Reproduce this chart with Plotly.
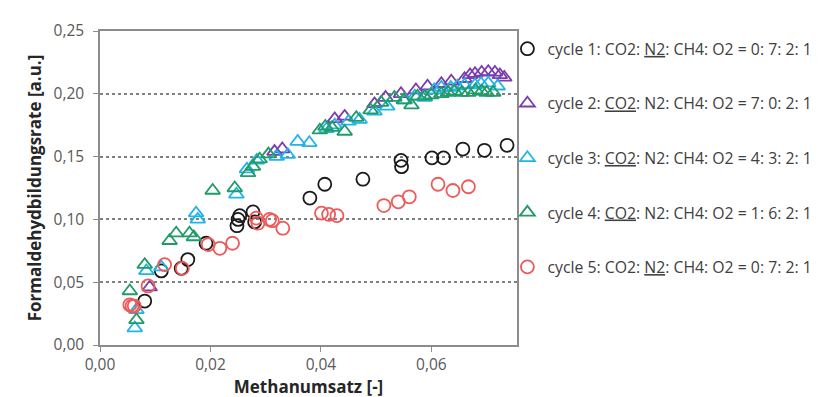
import plotly.graph_objects as go

# ---- data ----
c1_x = [0.0081,0.0111,0.0147,0.0159,0.0192,0.0248,0.0250,0.0253,0.0277,0.0280,0.0380,0.0407,0.0476,0.0545,0.0546,0.0601,0.0622,0.0657,0.0696,0.0737]
c1_y = [0.035,0.059,0.061,0.068,0.081,0.095,0.100,0.103,0.106,0.098,0.117,0.128,0.132,0.147,0.142,0.149,0.149,0.156,0.155,0.159]

c2_x = [0.0090,0.0316,0.0330,0.0425,0.0443,0.0497,0.0517,0.0545,0.0572,0.0593,0.0618,0.0636,0.0660,0.0670,0.0679,0.0691,0.0703,0.0715,0.0724,0.0732]
c2_y = [0.046,0.154,0.156,0.180,0.182,0.192,0.197,0.200,0.203,0.206,0.208,0.210,0.212,0.215,0.216,0.217,0.2175,0.217,0.215,0.213]

c3_x = [0.0063,0.0066,0.0084,0.0111,0.0174,0.0177,0.0247,0.0266,0.0284,0.0320,0.0340,0.0358,0.0379,0.0410,0.0425,0.0450,0.0470,0.0497,0.0520,0.0552,0.0570,0.0588,0.0605,0.0618,0.0635,0.0647,0.0660,0.0679,0.0690,0.0703,0.0720]
c3_y = [0.0135,0.028,0.059,0.062,0.105,0.100,0.120,0.140,0.147,0.150,0.1515,0.162,0.161,0.172,0.175,0.178,0.1795,0.186,0.190,0.195,0.198,0.197,0.203,0.205,0.205,0.206,0.207,0.207,0.208,0.2085,0.206]

c4_x = [0.0054,0.0066,0.0081,0.0126,0.0138,0.0162,0.0170,0.0204,0.0244,0.0268,0.0277,0.0289,0.0305,0.0398,0.0408,0.0420,0.0443,0.0464,0.0490,0.0509,0.0533,0.0550,0.0564,0.0575,0.0588,0.0600,0.0618,0.0630,0.0642,0.0655,0.0667,0.0680,0.0691,0.0700,0.0712]
c4_y = [0.043,0.020,0.064,0.083,0.089,0.089,0.086,0.123,0.125,0.137,0.142,0.148,0.152,0.171,0.174,0.173,0.170,0.181,0.187,0.193,0.197,0.195,0.191,0.198,0.198,0.199,0.200,0.201,0.202,0.201,0.201,0.203,0.202,0.201,0.201]

c5_x = [0.0054,0.0058,0.0062,0.0087,0.0117,0.0149,0.0196,0.0217,0.0240,0.0283,0.0286,0.0307,0.0312,0.0331,0.0401,0.0414,0.0429,0.0514,0.0540,0.0560,0.0612,0.0639,0.0667]
c5_y = [0.032,0.031,0.031,0.047,0.064,0.061,0.080,0.077,0.081,0.101,0.097,0.100,0.099,0.093,0.105,0.104,0.103,0.111,0.114,0.118,0.128,0.123,0.126]

names = [
    "cycle 1: CO2: <u>N2</u>: CH4: O2 = 0: 7: 2: 1",
    "cycle 2: <u>CO2</u>: N2: CH4: O2 = 7: 0: 2: 1",
    "cycle 3: <u>CO2</u>: N2: CH4: O2 = 4: 3: 2: 1",
    "cycle 4: <u>CO2</u>: N2: CH4: O2 = 1: 6: 2: 1",
    "cycle 5: CO2: <u>N2</u>: CH4: O2 = 0: 7: 2: 1",
]
xs = [c1_x, c2_x, c3_x, c4_x, c5_x]
ys = [c1_y, c2_y, c3_y, c4_y, c5_y]
colors = ["#1a1a1a", "#7a3db0", "#22b4e6", "#219c68", "#ee5a5a"]
symbols = ["circle-open", "triangle-up-open", "triangle-up-open", "triangle-up-open", "circle-open"]

x_ticks = [0.00, 0.02, 0.04, 0.06]
y_ticks = [0.00, 0.05, 0.10, 0.15, 0.20, 0.25]

fig = go.Figure()
for i in range(5):
    fig.add_trace(go.Scatter(
        x=xs[i], y=ys[i], mode="markers", name=names[i],
        legendgroup=f"g{i}",
        marker=dict(symbol=symbols[i], size=13, color=colors[i],
                    line=dict(width=1.8, color=colors[i])),
    ))

axis_common = dict(
    showline=True, linecolor="#8c8c8c", linewidth=1.5, mirror=True,
    ticks="outside", ticklen=5, tickcolor="#8c8c8c", tickwidth=1.2,
    tickfont=dict(family="Open Sans", size=15.5, color="#595959"),
    zeroline=False, automargin=False,
)

fig.update_layout(
    width=821, height=397,
    margin=dict(l=92, r=312, t=23, b=60, autoexpand=False),
    paper_bgcolor="white", plot_bgcolor="white",
    separators=",.",
    showlegend=True,
    legend=dict(x=0.977, y=0.997, xanchor="left", yanchor="top",
                tracegroupgap=31, itemwidth=30,
                font=dict(family="Open Sans", size=15.8, color="#404040"),
                bgcolor="rgba(0,0,0,0)"),
    xaxis=dict(range=[0, 0.0755], tickvals=x_ticks, tickformat=".2f",
               showgrid=False,
               title=dict(text="<b>Methanumsatz [-]</b>", standoff=4,
                          font=dict(family="Open Sans", size=17, color="#262626")),
               **axis_common),
    yaxis=dict(range=[0, 0.25], tickvals=y_ticks, tickformat=".2f",
               ticklabelstandoff=6,
               showgrid=True, gridcolor="#7f7f7f", griddash="dot", gridwidth=1.5,
               title=dict(text="<b>Formaldehydbildungsrate [a.u.]</b>", standoff=8,
                          font=dict(family="Open Sans", size=17, color="#262626")),
               **axis_common),
)

fig.write_html("out.html")
